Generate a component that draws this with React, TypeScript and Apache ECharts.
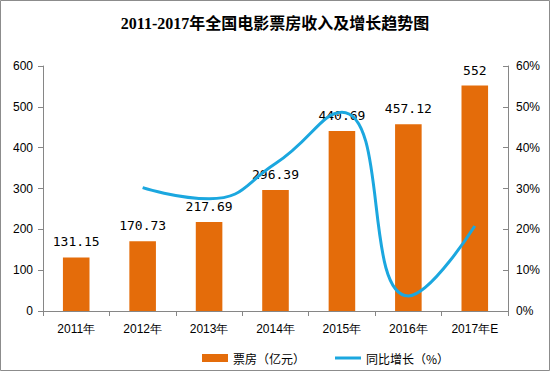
import React, { useEffect, useRef } from "react";
import * as echarts from "echarts";

const categories = ["2011年", "2012年", "2013年", "2014年", "2015年", "2016年", "2017年E"];
const boxOffice = [131.15, 170.73, 217.69, 296.39, 440.69, 457.12, 552];
const boxOfficeLabels = ["131.15", "170.73", "217.69", "296.39", "440.69", "457.12", "552"];
const growth: (number | null)[] = [null, 30.2, 27.5, 36.1, 48.7, 3.7, 20.8];
const titleText = "2011-2017年全国电影票房收入及增长趋势图";
const barName = "票房（亿元）";
const lineName = "同比增长（%）";

export default function App() {
  const ref = useRef<HTMLDivElement>(null);
  useEffect(() => {
    document.body.style.margin = "0";
    const chart = echarts.init(ref.current!, null, { renderer: "svg" });
    const axisColor = "#868686";
    const labelFont = { color: "#000", fontSize: 12, fontFamily: "Liberation Sans, Arial" };
    chart.setOption({
      animation: false,
      backgroundColor: "#fff",
      title: {
        text: titleText,
        left: "center",
        top: 10,
        textStyle: {
          fontSize: 16,
          fontWeight: "bold",
          color: "#000",
          fontFamily: "Liberation Serif, Noto Sans CJK SC",
        },
      },
      graphic: [
        {
          type: "rect",
          shape: { x: 0.5, y: 0.5, width: 549, height: 370 },
          style: { fill: "none", stroke: "#8c8c8c", lineWidth: 1 },
          silent: true,
        },
      ],
      legend: {
        left: 197,
        top: 347,
        itemGap: 30,
        itemWidth: 26,
        itemHeight: 8,
        textStyle: { fontSize: 12, color: "#000", fontFamily: "Noto Sans CJK SC" },
        data: [
          { name: barName, icon: "rect" },
          { name: lineName, icon: "path://M0,0 H26 V3 H0 Z" },
        ],
      },
      grid: { left: 43, right: 42, top: 66, bottom: 60 },
      xAxis: {
        type: "category",
        data: categories,
        axisLine: { lineStyle: { color: axisColor } },
        axisTick: { show: true, alignWithLabel: false, lineStyle: { color: axisColor }, length: 5 },
        axisLabel: { ...labelFont, margin: 12 },
      },
      yAxis: [
        {
          type: "value",
          min: 0,
          max: 600,
          interval: 100,
          axisLine: { show: true, lineStyle: { color: axisColor } },
          axisTick: { show: true, lineStyle: { color: axisColor }, length: 5 },
          splitLine: { show: false },
          axisLabel: { ...labelFont, margin: 10 },
        },
        {
          type: "value",
          min: 0,
          max: 60,
          interval: 10,
          position: "right",
          axisLine: { show: true, lineStyle: { color: axisColor } },
          axisTick: { show: true, inside: true, lineStyle: { color: axisColor }, length: 5 },
          splitLine: { show: false },
          axisLabel: { ...labelFont, margin: 8, formatter: "{value}%" },
        },
      ],
      series: [
        {
          name: barName,
          type: "bar",
          data: boxOffice,
          barWidth: "40%",
          itemStyle: { color: "#e46c0a" },
          label: {
            show: true,
            position: "top",
            distance: 9,
            color: "#000",
            fontSize: 13,
            fontFamily: "DejaVu Sans Mono, Liberation Mono",
            formatter: (p: any) => boxOfficeLabels[p.dataIndex],
          },
        },
        {
          name: lineName,
          type: "line",
          yAxisIndex: 1,
          data: growth,
          smooth: 0.5,
          showSymbol: false,
          symbol: "none",
          connectNulls: false,
          lineStyle: { color: "#1ba7df", width: 3 },
          itemStyle: { color: "#1ba7df" },
        },
      ],
    });
    return () => chart.dispose();
  }, []);
  return <div ref={ref} style={{ width: 550, height: 371 }} />;
}
